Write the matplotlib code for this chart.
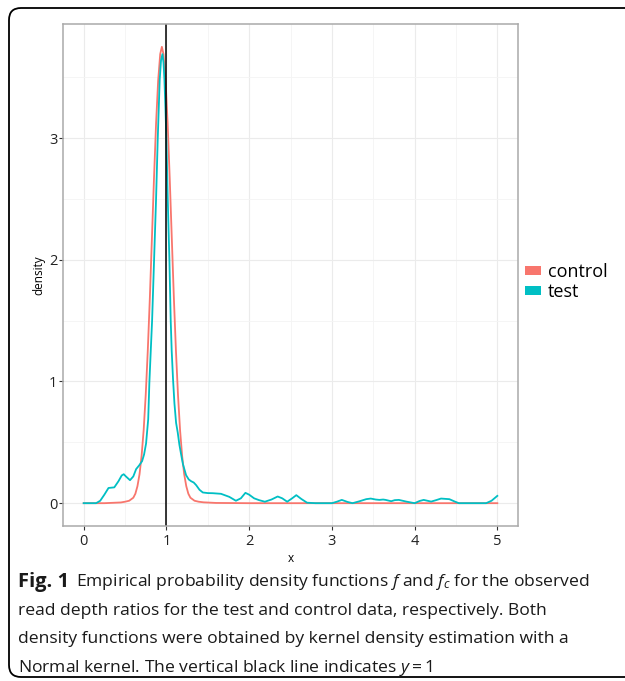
import matplotlib.pyplot as plt
from matplotlib.patches import Patch, PathPatch
from matplotlib.path import Path

# density curves
control_x = [0.0, 0.25, 0.45, 0.50, 0.55, 0.60, 0.625, 0.65, 0.675, 0.70, 0.725, 0.75, 0.775,
             0.80, 0.825, 0.85, 0.875, 0.90, 0.925, 0.945, 0.965, 0.99, 1.015, 1.04, 1.065,
             1.09, 1.115, 1.14, 1.165, 1.19, 1.215, 1.24, 1.265, 1.29, 1.34, 1.39, 1.45,
             1.6, 2.0, 3.0, 4.0, 5.0]
control_y = [0.0, 0.0, 0.006, 0.012, 0.02, 0.045, 0.078, 0.14, 0.238, 0.388, 0.60, 0.89, 1.257,
             1.69, 2.18, 2.67, 3.12, 3.47, 3.69, 3.75, 3.69, 3.47, 3.12, 2.67, 2.18,
             1.69, 1.257, 0.89, 0.60, 0.388, 0.238, 0.14, 0.078, 0.045, 0.02, 0.012, 0.007,
             0.002, 0.0, 0.0, 0.0, 0.0]

test_x = [0.0, 0.15, 0.20, 0.25, 0.30, 0.37, 0.42, 0.46, 0.484, 0.51, 0.56, 0.60, 0.634,
          0.67, 0.706, 0.73, 0.754, 0.78, 0.794, 0.81, 0.827, 0.851, 0.875, 0.895, 0.919,
          0.935, 0.952, 0.965, 0.976, 0.988, 1.0, 1.016, 1.036, 1.052, 1.064, 1.08, 1.097,
          1.117, 1.137, 1.157, 1.178, 1.20, 1.238, 1.27, 1.30, 1.33, 1.36, 1.40, 1.44, 1.50,
          1.56, 1.66, 1.76, 1.84, 1.90, 1.955, 2.00, 2.06, 2.12, 2.19, 2.27, 2.345, 2.40,
          2.46, 2.52, 2.57, 2.63, 2.70, 2.80, 3.0, 3.06, 3.12, 3.19, 3.25, 3.33, 3.415, 3.47,
          3.53, 3.575, 3.62, 3.65, 3.717, 3.76, 3.81, 3.9, 4.0, 4.06, 4.11, 4.2, 4.26, 4.32,
          4.42, 4.48, 4.535, 4.7, 4.865, 4.93, 5.0]
test_y = [0.0, 0.0, 0.02, 0.07, 0.125, 0.13, 0.18, 0.228, 0.238, 0.22, 0.189, 0.22, 0.28,
          0.31, 0.345, 0.40, 0.49, 0.69, 0.99, 1.24, 1.5, 2.0, 2.5, 2.99, 3.48,
          3.64, 3.69, 3.62, 3.48, 3.25, 2.99, 2.5, 2.0, 1.5, 1.25, 1.02, 0.82,
          0.66, 0.58, 0.48, 0.40, 0.32, 0.23, 0.195, 0.18, 0.17, 0.148, 0.11, 0.088, 0.083,
          0.082, 0.077, 0.052, 0.02, 0.04, 0.085, 0.07, 0.04, 0.025, 0.012, 0.03, 0.055, 0.04,
          0.012, 0.04, 0.066, 0.035, 0.004, 0.0, 0.0, 0.012, 0.027, 0.01, 0.0, 0.015, 0.033, 0.038,
          0.03, 0.027, 0.03, 0.027, 0.016, 0.025, 0.027, 0.013, 0.0, 0.018, 0.027, 0.013, 0.025, 0.038,
          0.033, 0.015, 0.0, 0.0, 0.0, 0.02, 0.06]

groups = ['control', 'test']
colors = ['#F8766D', '#00BFC4']

caption_head = "Fig. 1"
caption_lines = [
    r"Empirical probability density functions $f$ and $f_c$ for the observed",
    "read depth ratios for the test and control data, respectively. Both",
    "density functions were obtained by kernel density estimation with a",
    r"Normal kernel. The vertical black line indicates $y = 1$",
]

plt.rcParams['font.family'] = ['Open Sans', 'DejaVu Sans']
plt.rcParams['mathtext.fontset'] = 'custom'
plt.rcParams['mathtext.rm'] = 'Open Sans'
plt.rcParams['mathtext.it'] = 'Open Sans:italic'
plt.rcParams['mathtext.bf'] = 'Open Sans:bold'

W, H = 625, 681
fig = plt.figure(figsize=(W/100, H/100), dpi=100)
ax = fig.add_axes([63/W, 1 - 526/H, (518-63)/W, (526-24)/H])

ax.plot(control_x, control_y, color=colors[0], lw=1.3)
ax.plot(test_x, test_y, color=colors[1], lw=1.3)
ax.axvline(1, color='black', lw=1.1)

ax.set_xlim(-0.25, 5.25)
ax.set_ylim(-0.1875, 3.9375)
ax.set_xticks([0, 1, 2, 3, 4, 5])
ax.set_yticks([0, 1, 2, 3])
ax.set_xticks([0.5, 1.5, 2.5, 3.5, 4.5], minor=True)
ax.set_yticks([0.5, 1.5, 2.5, 3.5], minor=True)
ax.grid(which='major', color='#ebebeb', lw=0.8)
ax.grid(which='minor', color='#f4f4f4', lw=0.6)
ax.set_axisbelow(True)
ax.tick_params(which='minor', length=0)
ax.tick_params(which='major', length=3, width=0.8, color='#333333',
               labelsize=10.5, labelcolor='#222222')
ax.tick_params(axis='x', pad=3)
ax.tick_params(axis='y', pad=1)
for s in ax.spines.values():
    s.set_color('#aaaaaa')
    s.set_linewidth(1.1)

ax.set_xlabel('x', fontsize=8.5, labelpad=2)
ax.set_ylabel('density', fontsize=8.5, labelpad=3)

handles = [Patch(facecolor=c, edgecolor='none') for c in colors]
fig.legend(handles, groups, loc='center left', bbox_to_anchor=(525/W, 1 - 282/H),
           frameon=False, fontsize=13, handlelength=0.9, handleheight=0.4,
           handletextpad=0.35, labelspacing=0.15, borderpad=0, borderaxespad=0)

# rounded caption frame, open on the right side
x0, top, bot, r = 9/W, 1 - 8/H, 1 - 677/H, 12
rx, ry = r/W, r/H
verts = [(1.0, top), (x0 + rx, top), (x0, top), (x0, top - ry),
         (x0, bot + ry), (x0, bot), (x0 + rx, bot), (1.0, bot)]
codes = [Path.MOVETO, Path.LINETO, Path.CURVE3, Path.CURVE3,
         Path.LINETO, Path.CURVE3, Path.CURVE3, Path.LINETO]
fig.add_artist(PathPatch(Path(verts, codes), transform=fig.transFigure, fill=False,
                         edgecolor='black', lw=1.3))

fs = 12.6
fig.text(18/W, 1 - 582/H, caption_head, fontsize=14.5, fontweight='bold',
         va='center', ha='left', color='#1a1a1a')
for i, line in enumerate(caption_lines):
    xpos = 76/W if i == 0 else 18/W
    fig.text(xpos, 1 - (582 + 28.7*i)/H, line, fontsize=fs, va='center', ha='left',
             color='#1a1a1a')

plt.savefig('out.png', dpi=100)
